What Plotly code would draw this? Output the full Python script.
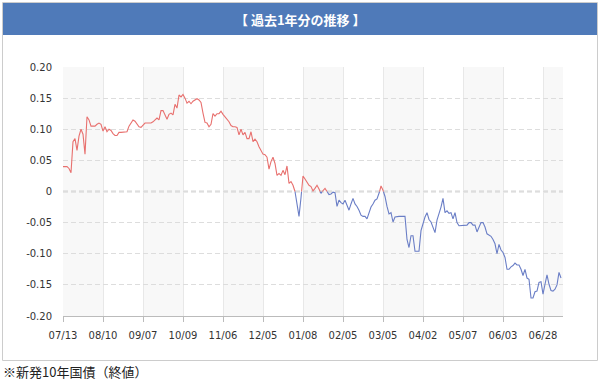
import plotly.graph_objects as go

# ---- data ----
tick_labels = ["07/13", "08/10", "09/07", "10/09", "11/06", "12/05", "01/08",
               "02/05", "03/05", "04/02", "05/07", "06/03", "06/28"]
tick_step = 20

yields = [
    0.040, 0.040, 0.040, 0.037, 0.030, 0.080, 0.085, 0.066, 0.089, 0.100,
    0.092, 0.060, 0.120, 0.115, 0.105, 0.105, 0.105, 0.108, 0.110, 0.108,
    0.097, 0.104, 0.096, 0.100, 0.098, 0.093, 0.090, 0.090, 0.095, 0.095,
    0.095, 0.095, 0.096, 0.105, 0.110, 0.115, 0.113, 0.108, 0.104, 0.103,
    0.106, 0.110, 0.110, 0.110, 0.110, 0.112, 0.115, 0.118, 0.115, 0.130,
    0.130, 0.124, 0.116, 0.124, 0.126, 0.123, 0.140, 0.134, 0.155, 0.152,
    0.156, 0.150, 0.142, 0.145, 0.141, 0.145, 0.147, 0.149, 0.147, 0.143,
    0.126, 0.111, 0.110, 0.104, 0.108, 0.125, 0.121, 0.125, 0.125, 0.129,
    0.124, 0.120, 0.117, 0.112, 0.106, 0.104, 0.104, 0.103, 0.091, 0.100,
    0.091, 0.095, 0.085, 0.085, 0.096, 0.080, 0.084, 0.080, 0.072, 0.066,
    0.060, 0.059, 0.055, 0.036, 0.048, 0.055, 0.045, 0.026, 0.029, 0.026,
    0.034, 0.027, 0.041, 0.013, 0.016, 0.010, 0.000, -0.020, -0.040, -0.010,
    0.025, 0.020, 0.014, 0.010, 0.008, 0.001, 0.005, 0.010, 0.004, -0.003,
    0.002, 0.005, 0.000, -0.005, -0.004, -0.001, -0.002, -0.024, -0.014, -0.018,
    -0.020, -0.014, -0.022, -0.030, -0.020, -0.011, -0.020, -0.024, -0.030, -0.038,
    -0.040, -0.040, -0.044, -0.033, -0.025, -0.020, -0.014, -0.012, -0.004, 0.009,
    0.002, -0.008, -0.024, -0.036, -0.034, -0.049, -0.041, -0.040, -0.040, -0.040,
    -0.040, -0.040, -0.077, -0.090, -0.071, -0.071, -0.096, -0.096, -0.096, -0.063,
    -0.050, -0.041, -0.034, -0.045, -0.049, -0.058, -0.066, -0.046, -0.036, -0.025,
    -0.011, -0.034, -0.031, -0.035, -0.034, -0.044, -0.034, -0.050, -0.055, -0.055,
    -0.054, -0.054, -0.054, -0.050, -0.050, -0.054, -0.054, -0.065, -0.058, -0.050,
    -0.050, -0.057, -0.068, -0.070, -0.072, -0.077, -0.084, -0.100, -0.085, -0.094,
    -0.098, -0.106, -0.125, -0.125, -0.121, -0.119, -0.115, -0.118, -0.118, -0.125,
    -0.135, -0.125, -0.139, -0.141, -0.171, -0.171, -0.161, -0.160, -0.146, -0.145,
    -0.165, -0.149, -0.134, -0.149, -0.159, -0.160, -0.157, -0.150, -0.130, -0.139,
]
y_ticks = [0.20, 0.15, 0.10, 0.05, 0.0, -0.05, -0.10, -0.15, -0.20]
y_tick_text = ["0.20", "0.15", "0.10", "0.05", "0", "-0.05", "-0.10", "-0.15", "-0.20"]

title_text = "【 過去1年分の推移 】"
note_text = "※新発10年国債（終値）"

RED = "#E8706E"
BLUE = "#6A7EC6"

# ---- split line at zero crossings (threshold colouring) ----
pts = []
for k, v in enumerate(yields):
    if k > 0:
        p = yields[k - 1]
        if (p > 0 and v < 0) or (p < 0 and v > 0):
            t = p / (p - v)
            pts.append((k - 1 + t, 0.0))
    pts.append((k, v))

xr = [x for x, y in pts]
yr = [y if y >= 0 else None for x, y in pts]
yb = [y if y <= 0 else None for x, y in pts]

W, H = 600, 383
ML, MR, MT, MB = 63, 37, 67, 67
PW, PH = W - ML - MR, H - MT - MB


def xp(px):
    return (px - ML) / PW


def yp(py):
    return (H - MB - py) / PH


fig = go.Figure()
fig.add_trace(go.Scatter(x=xr, y=yb, mode="lines", line=dict(color=BLUE, width=1.1),
                         connectgaps=False, hoverinfo="skip", showlegend=False))
fig.add_trace(go.Scatter(x=xr, y=yr, mode="lines", line=dict(color=RED, width=1.1),
                         connectgaps=False, hoverinfo="skip", showlegend=False))

n = len(yields)
tick_vals = [i * tick_step for i in range(len(tick_labels))]
shapes = []
# alternating bands
for j, tv in enumerate(tick_vals):
    if j % 2 == 0:
        shapes.append(dict(type="rect", xref="x", yref="paper", x0=tv,
                           x1=min(tv + tick_step, n), y0=0, y1=1,
                           fillcolor="#F8F8F8", line=dict(width=0), layer="below"))
# zero line
shapes.append(dict(type="line", xref="paper", yref="y", x0=0, x1=1, y0=0, y1=0,
                   line=dict(color="#AAAAAA", width=1.5, dash="5px,3px"), layer="below"))
# outer panel border
shapes.append(dict(type="rect", xref="paper", yref="paper", x0=xp(2.5), x1=xp(597.5),
                   y0=yp(360.5), y1=yp(2.5), line=dict(color="#CCCCCC", width=1),
                   fillcolor="rgba(0,0,0,0)", layer="below"))
# title bar
shapes.append(dict(type="rect", xref="paper", yref="paper", x0=xp(3), x1=xp(597),
                   y0=yp(35), y1=yp(3), line=dict(width=0),
                   fillcolor="#4F7AB9", layer="below"))

fig.update_layout(
    width=W, height=H,
    margin=dict(l=ML, r=MR, t=MT, b=MB),
    paper_bgcolor="white", plot_bgcolor="white",
    font=dict(family="DejaVu Sans, Verdana, sans-serif", size=10, color="#333333"),
    shapes=shapes,
    annotations=[
        dict(text=f"<b>{title_text}</b>", xref="paper", yref="paper", x=xp(300), y=yp(19),
             xanchor="center", yanchor="middle", showarrow=False,
             font=dict(family="Noto Sans CJK JP", size=13, color="white")),
        dict(text=note_text, xref="paper", yref="paper", x=xp(1), y=yp(371),
             xanchor="left", yanchor="middle", showarrow=False,
             font=dict(family="Noto Sans CJK JP", size=13, color="#222222")),
    ],
    xaxis=dict(range=[0, n], tickmode="array", tickvals=tick_vals, ticktext=tick_labels,
               showgrid=True, gridcolor="#E8E8E8", gridwidth=1, zeroline=False,
               showline=True, linecolor="#BBBBBB", linewidth=1,
               ticks="outside", ticklen=5, tickcolor="#BBBBBB", tickfont=dict(size=10),
               ticklabelstandoff=5, fixedrange=True),
    yaxis=dict(range=[-0.2, 0.2], tickmode="array", tickvals=y_ticks, ticktext=y_tick_text,
               showgrid=True, gridcolor="#DDDDDD", griddash="5px,3px", gridwidth=1,
               zeroline=False, showline=False, ticks="", ticklabelstandoff=10,
               tickfont=dict(size=10), fixedrange=True),
)

fig.write_html(
    "out.html",
    config={"displayModeBar": False},
    post_script="document.body.style.margin='0';document.body.style.overflow='hidden';",
)
